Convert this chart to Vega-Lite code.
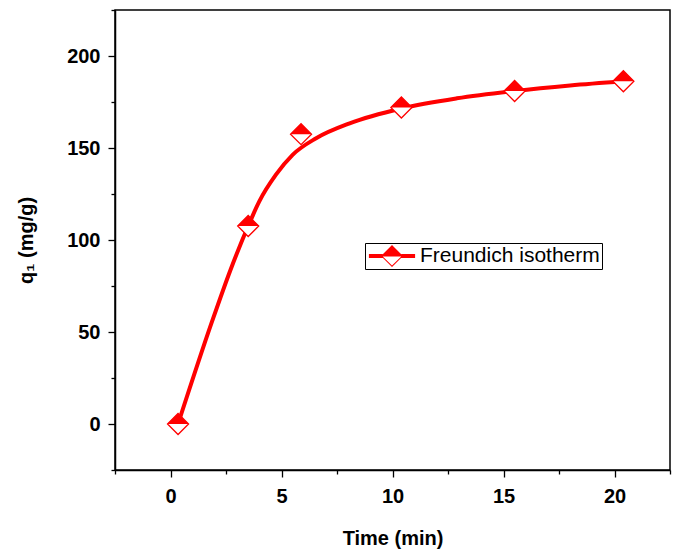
{
  "$schema": "https://vega.github.io/schema/vega-lite/v6.json",
  "autosize": {"type": "none"},
  "padding": {"left": 115, "top": 10, "right": 12, "bottom": 82},
  "width": 555,
  "height": 460,
  "background": "white",
  "config": {
    "view": {"stroke": "black", "strokeWidth": 1.5},
    "font": "Liberation Sans",
    "axis": {
      "domainColor": "black",
      "domainWidth": 1.5,
      "tickColor": "black",
      "tickWidth": 1.3,
      "grid": false,
      "labelFont": "Liberation Sans",
      "labelFontSize": 20,
      "labelFontWeight": "bold",
      "labelColor": "black",
      "titleFont": "Liberation Sans",
      "titleFontSize": 20,
      "titleFontWeight": "bold",
      "titleColor": "black"
    }
  },
  "datasets": {
    "curve": [
      {"t": 0.34, "q": 0},
      {"t": 1.88, "q": 56},
      {"t": 2.71, "q": 84},
      {"t": 3.5, "q": 107.6},
      {"t": 4.0, "q": 121},
      {"t": 4.75, "q": 135.5},
      {"t": 5.5, "q": 146.3},
      {"t": 6.56, "q": 155.3},
      {"t": 8.07, "q": 163.4},
      {"t": 10.4, "q": 171.5},
      {"t": 12.9, "q": 177},
      {"t": 15.5, "q": 181},
      {"t": 18.0, "q": 184},
      {"t": 20.4, "q": 186.3}
    ],
    "points": [
      {"t": 0.34, "q": 0},
      {"t": 3.5, "q": 107.6},
      {"t": 5.88, "q": 157.5},
      {"t": 10.4, "q": 172},
      {"t": 15.5, "q": 181},
      {"t": 20.4, "q": 186.3}
    ]
  },
  "encoding": {
    "x": {
      "field": "t",
      "type": "quantitative",
      "scale": {"domain": [-2.5, 22.5], "nice": false, "zero": false},
      "axis": {
        "title": "Time (min)",
        "values": [-2.5, 0, 2.5, 5, 7.5, 10, 12.5, 15, 17.5, 20, 22.5],
        "labelExpr": "datum.value % 5 === 0 ? datum.label : ''",
        "tickSize": {"condition": {"test": "datum.value % 5 === 0", "value": 7}, "value": 4},
        "labelPadding": 9,
        "titlePadding": 22
      }
    },
    "y": {
      "field": "q",
      "type": "quantitative",
      "scale": {"domain": [-25, 225], "nice": false, "zero": false},
      "axis": {
        "title": "q₁ (mg/g)",
        "values": [-25, 0, 25, 50, 75, 100, 125, 150, 175, 200, 225],
        "labelExpr": "datum.value % 50 === 0 ? datum.label : ''",
        "tickSize": {"condition": {"test": "datum.value % 50 === 0", "value": 7}, "value": 4},
        "labelPadding": 8,
        "titlePadding": 30
      }
    }
  },
  "layer": [
    {
      "data": {"name": "curve"},
      "mark": {"type": "line", "color": "#ff0000", "strokeWidth": 4, "interpolate": "monotone"}
    },
    {
      "data": {"name": "points"},
      "mark": {"type": "point", "shape": "diamond", "filled": true, "fill": "white", "stroke": "#ff0000", "strokeWidth": 1.3, "size": 441, "opacity": 1}
    },
    {
      "data": {"name": "points"},
      "mark": {"type": "point", "shape": "M-1,0L0,-1L1,0Z", "filled": true, "size": 441, "opacity": 1, "strokeWidth": 0},
      "encoding": {
        "color": {
          "datum": "Freundich isotherm",
          "type": "nominal",
          "scale": {"range": ["#ff0000"]},
          "legend": {
            "title": null,
            "orient": "none",
            "legendX": 250,
            "legendY": 233,
            "padding": 2,
            "strokeColor": "black",
            "fillColor": "white",
            "labelFont": "Liberation Sans",
            "labelFontSize": 21,
            "labelFontWeight": "normal",
            "labelColor": "black",
            "labelLimit": 400,
            "symbolType": "M-2.1,-0.18L-0.82,-0.18L-1,0L-0.82,0.18L-2.1,0.18ZM2.1,-0.18L0.82,-0.18L1,0L0.82,0.18L2.1,0.18ZM-1,0L0,-1L1,0ZM-1,0L0,1L1,0ZM-0.84,0.04L0.84,0.04L0,0.87Z",
            "symbolSize": 484,
            "symbolFillColor": "#ff0000",
            "symbolStrokeWidth": 0,
            "symbolOpacity": 1,
            "symbolOffset": 14,
            "labelOffset": 17
          }
        }
      }
    }
  ]
}
